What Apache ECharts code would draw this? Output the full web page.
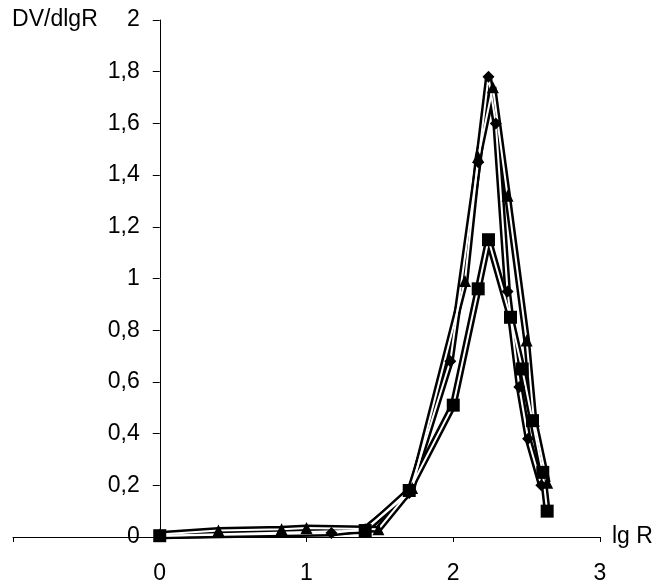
<!DOCTYPE html>
<html>
<head>
<meta charset="utf-8">
<script src="https://cdn.jsdelivr.net/npm/echarts@6/dist/echarts.min.js"></script>
<style>
  html, body { margin: 0; padding: 0; background: #fff; }
  #chart { width: 669px; height: 584px; }
</style>
</head>
<body>
<div id="chart"></div>
<script>
// [lg R, DV/dlgR] pairs
const squarePts = [
  [0, 0.005], [1.4, 0.025], [1.7, 0.18], [2.0, 0.51], [2.17, 0.96],
  [2.24, 1.15], [2.39, 0.85], [2.47, 0.65], [2.54, 0.45], [2.61, 0.25], [2.64, 0.1]
];
const trianglePts = [
  [0, 0.01], [0.4, 0.025], [0.83, 0.03], [1.0, 0.035], [1.49, 0.03], [1.72, 0.19],
  [2.08, 0.99], [2.17, 1.47], [2.27, 1.74], [2.37, 1.32], [2.5, 0.76], [2.55, 0.45], [2.64, 0.21]
];
const diamondPts = [
  [0, 0.005], [1.17, 0.015], [1.4, 0.03], [1.7, 0.17], [1.98, 0.68],
  [2.17, 1.45], [2.24, 1.78], [2.29, 1.6], [2.37, 0.95], [2.45, 0.58],
  [2.51, 0.38], [2.6, 0.2]
];
const xTicks = [-1, 0, 1, 2, 3];
const yTicks = [0, 0.2, 0.4, 0.6, 0.8, 1, 1.2, 1.4, 1.6, 1.8, 2];

const myChart = echarts.init(document.getElementById("chart"));
const font = "Liberation Sans, Arial, sans-serif";
const fs = 23;
const sets = [
  { data: squarePts, symbol: "rect", size: 13 },
  { data: trianglePts, symbol: "triangle", size: 12 },
  { data: diamondPts, symbol: "diamond", size: 12 }
];

// y axis sits on lg R = 0, i.e. one x unit in from the grid's left edge
const gridLeft = 13, gridRight = 69;
const xUnit = (669 - gridLeft - gridRight) / (xTicks[xTicks.length - 1] - xTicks[0]);

const series = [];
sets.forEach((s) => {
  series.push({
    type: "line", data: s.data, showSymbol: false, z: 2,
    lineStyle: { color: "#000", width: 7 }, animation: false
  });
});
sets.forEach((s) => {
  series.push({
    type: "line", data: s.data, showSymbol: false, z: 3,
    lineStyle: { color: "#fff", width: 2 }, animation: false
  });
});
sets.forEach((s) => {
  series.push({
    type: "scatter", data: s.data, symbol: s.symbol, symbolSize: s.size, z: 4,
    itemStyle: { color: "#000", opacity: 1 }, animation: false
  });
});

myChart.setOption({
  backgroundColor: "#fff",
  grid: {
    left: gridLeft, right: gridRight, top: 20, bottom: 47,
    containLabel: false, outerBoundsMode: "none"
  },
  xAxis: {
    type: "value",
    min: xTicks[0],
    max: xTicks[xTicks.length - 1],
    interval: 1,
    name: "lg R",
    nameLocation: "end",
    nameGap: 12,
    nameTextStyle: { color: "#000", fontSize: fs, fontFamily: font },
    axisLine: { lineStyle: { color: "#000", width: 1 } },
    axisTick: { show: true, length: 5, lineStyle: { color: "#000" } },
    axisLabel: {
      color: "#000", fontSize: fs, fontFamily: font, margin: 25,
      formatter: (v) => (v < 0 ? "" : String(v))
    },
    splitLine: { show: false }
  },
  yAxis: {
    type: "value",
    min: yTicks[0],
    max: yTicks[yTicks.length - 1],
    interval: 0.2,
    offset: -(xUnit * (0 - xTicks[0])),
    name: "DV/dlgR",
    nameLocation: "end",
    nameGap: 0,
    nameTextStyle: {
      color: "#000", fontSize: fs, fontFamily: font,
      align: "right", verticalAlign: "middle", padding: [0, 62, 0, 0]
    },
    axisLine: { onZero: false, lineStyle: { color: "#000", width: 1 } },
    axisTick: { show: true, length: 7, lineStyle: { color: "#000" } },
    axisLabel: {
      color: "#000", fontSize: fs, fontFamily: font, margin: 20,
      formatter: (v) => String(Math.round(v * 10) / 10).replace(".", ",")
    },
    splitLine: { show: false }
  },
  series: series
});

window.addEventListener("resize", () => {
  myChart.resize();
});
</script>
</body>
</html>
